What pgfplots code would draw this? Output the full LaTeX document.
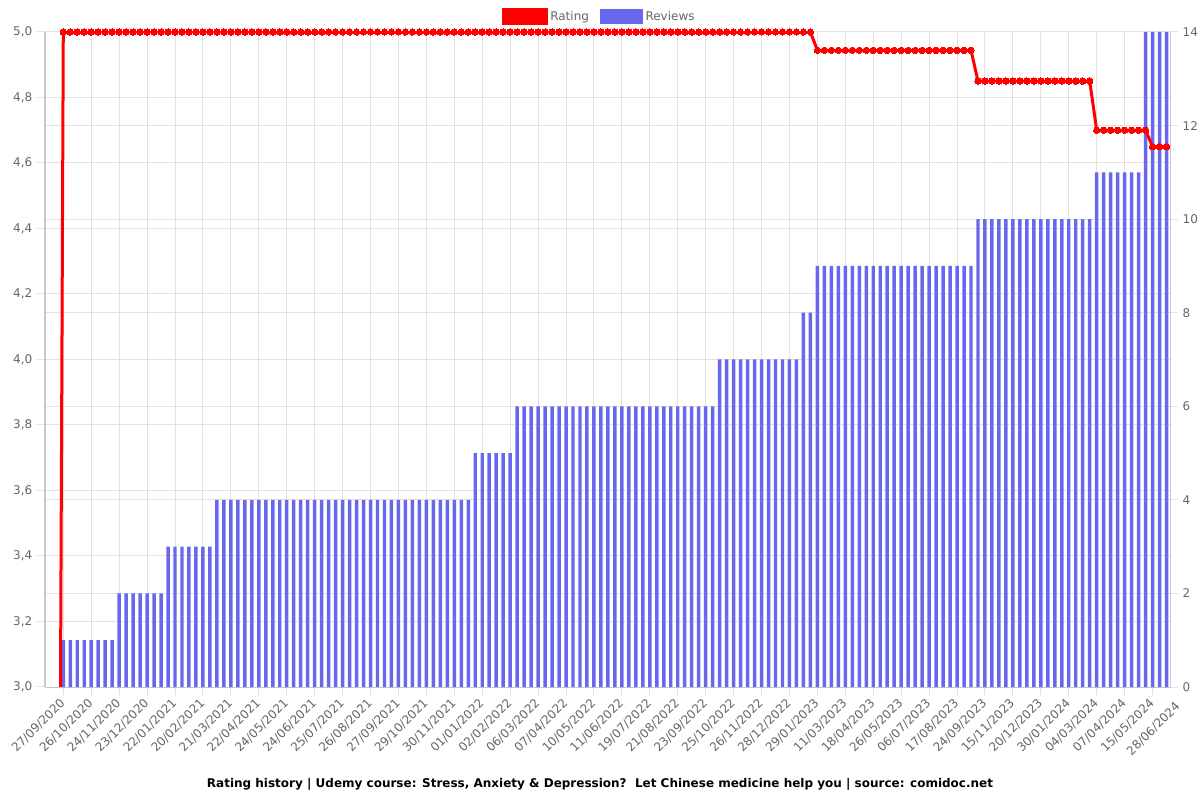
\documentclass[border=0pt]{standalone}
\usepackage{pgfplots}
\pgfplotsset{compat=1.18}
\usepackage{fontspec}
\setmainfont{DejaVu Sans}
\definecolor{barblue}{RGB}{104,104,238}
\definecolor{gridc}{RGB}{226,226,226}
\definecolor{tickc}{RGB}{102,102,102}
\definecolor{axc}{RGB}{200,200,200}
\begin{document}
\begin{tikzpicture}
\useasboundingbox (0,0) rectangle (900pt,600pt);
\begin{axis}[
  at={(33.75pt,84.75pt)}, anchor=south west,
  width=843.75pt, height=491.25pt, scale only axis,
  xmin=-1.62, xmax=159.5, ymin=0, ymax=14,
  axis x line*=bottom, axis y line*=right,
  axis line style={axc, line width=0.75pt, -},
  xtick={1,5,...,157},
  xticklabels={27/09/2020,26/10/2020,24/11/2020,23/12/2020,22/01/2021,20/02/2021,21/03/2021,22/04/2021,24/05/2021,24/06/2021,25/07/2021,26/08/2021,27/09/2021,29/10/2021,30/11/2021,01/01/2022,02/02/2022,06/03/2022,07/04/2022,10/05/2022,11/06/2022,19/07/2022,21/08/2022,23/09/2022,25/10/2022,26/11/2022,28/12/2022,29/01/2023,11/03/2023,18/04/2023,26/05/2023,06/07/2023,17/08/2023,24/09/2023,15/11/2023,20/12/2023,30/01/2024,04/03/2024,07/04/2024,15/05/2024},
  xticklabel style={rotate=45, anchor=east, yshift=-3pt, font=\fontsize{9}{11}\selectfont, text=tickc},
  ytick={0,2,...,14},
  yticklabel style={font=\fontsize{9}{11}\selectfont, text=tickc},
  /pgf/number format/assume math mode=true,
  extra y ticks={1.4,2.8,4.2,5.6,7,8.4,9.8,11.2,12.6},
  extra y tick labels={},
  extra y tick style={grid=major, major tick length=0pt},
  grid=major, grid style={gridc, line width=0.75pt},
  tick align=outside, major tick length=6pt,
  tick style={gridc, line width=0.75pt},
  clip=true,
]
\addplot[ybar, bar width=2.6pt, bar shift=0pt, fill=barblue, draw=none] coordinates {
(0,0)
(1,1)(2,1)(3,1)(4,1)(5,1)(6,1)(7,1)(8,1)
(9,2)(10,2)(11,2)(12,2)(13,2)(14,2)(15,2)
(16,3)(17,3)(18,3)(19,3)(20,3)(21,3)(22,3)
(23,4)(24,4)(25,4)(26,4)(27,4)(28,4)(29,4)(30,4)(31,4)(32,4)(33,4)(34,4)(35,4)(36,4)(37,4)(38,4)(39,4)(40,4)(41,4)(42,4)(43,4)(44,4)(45,4)(46,4)(47,4)(48,4)(49,4)(50,4)(51,4)(52,4)(53,4)(54,4)(55,4)(56,4)(57,4)(58,4)(59,4)
(60,5)(61,5)(62,5)(63,5)(64,5)(65,5)
(66,6)(67,6)(68,6)(69,6)(70,6)(71,6)(72,6)(73,6)(74,6)(75,6)(76,6)(77,6)(78,6)(79,6)(80,6)(81,6)(82,6)(83,6)(84,6)(85,6)(86,6)(87,6)(88,6)(89,6)(90,6)(91,6)(92,6)(93,6)(94,6)
(95,7)(96,7)(97,7)(98,7)(99,7)(100,7)(101,7)(102,7)(103,7)(104,7)(105,7)(106,7)
(107,8)(108,8)
(109,9)(110,9)(111,9)(112,9)(113,9)(114,9)(115,9)(116,9)(117,9)(118,9)(119,9)(120,9)(121,9)(122,9)(123,9)(124,9)(125,9)(126,9)(127,9)(128,9)(129,9)(130,9)(131,9)
(132,10)(133,10)(134,10)(135,10)(136,10)(137,10)(138,10)(139,10)(140,10)(141,10)(142,10)(143,10)(144,10)(145,10)(146,10)(147,10)(148,10)
(149,11)(150,11)(151,11)(152,11)(153,11)(154,11)(155,11)
(156,14)(157,14)(158,14)(159,14)
};
\coordinate (lastlab) at (axis cs:160.7,0);
\end{axis}
\node[rotate=45, anchor=east, yshift=-3pt, font=\fontsize{9}{11}\selectfont, text=tickc] at ([yshift=-8.5pt]lastlab) {28/06/2024};
\begin{axis}[
  at={(33.75pt,84.75pt)}, anchor=south west,
  width=843.75pt, height=491.25pt, scale only axis,
  xmin=-1.62, xmax=159.5, ymin=3, ymax=5,
  axis y line*=left, axis x line=none,
  axis line style={axc, line width=0.75pt, -},
  ytick={3,3.2,3.4,3.6,3.8,4,4.2,4.4,4.6,4.8,5},
  yticklabel style={font=\fontsize{9}{11}\selectfont, text=tickc,
    /pgf/number format/.cd, fixed, fixed zerofill, precision=1, use comma},
  /pgf/number format/assume math mode=true,
  tick align=outside, major tick length=6pt,
  tick style={gridc, line width=0.75pt},
  clip=true,
  legend style={at={(0.493,1)}, anchor=south, yshift=3pt, draw=none, fill=none,
    font=\fontsize{9}{11}\selectfont, text=tickc, legend columns=2,
    /tikz/every even column/.append style={column sep=6pt}},
]
\addplot[red, line width=2.25pt, mark=*, mark size=2.4pt, mark options={fill=red, draw=red, line width=0pt},
  legend image code/.code={\fill[red] (0pt,-5.2pt) rectangle (32pt,5.2pt);}] coordinates {
(0,0)
(1,5)(2,5)(3,5)(4,5)(5,5)(6,5)(7,5)(8,5)(9,5)(10,5)(11,5)(12,5)(13,5)(14,5)(15,5)(16,5)(17,5)(18,5)(19,5)(20,5)
(21,5)(22,5)(23,5)(24,5)(25,5)(26,5)(27,5)(28,5)(29,5)(30,5)(31,5)(32,5)(33,5)(34,5)(35,5)(36,5)(37,5)(38,5)(39,5)(40,5)
(41,5)(42,5)(43,5)(44,5)(45,5)(46,5)(47,5)(48,5)(49,5)(50,5)(51,5)(52,5)(53,5)(54,5)(55,5)(56,5)(57,5)(58,5)(59,5)(60,5)
(61,5)(62,5)(63,5)(64,5)(65,5)(66,5)(67,5)(68,5)(69,5)(70,5)(71,5)(72,5)(73,5)(74,5)(75,5)(76,5)(77,5)(78,5)(79,5)(80,5)
(81,5)(82,5)(83,5)(84,5)(85,5)(86,5)(87,5)(88,5)(89,5)(90,5)(91,5)(92,5)(93,5)(94,5)(95,5)(96,5)(97,5)(98,5)(99,5)(100,5)
(101,5)(102,5)(103,5)(104,5)(105,5)(106,5)(107,5)(108,5)
(109,4.944)(110,4.944)(111,4.944)(112,4.944)(113,4.944)(114,4.944)(115,4.944)(116,4.944)(117,4.944)(118,4.944)(119,4.944)(120,4.944)(121,4.944)(122,4.944)(123,4.944)(124,4.944)(125,4.944)(126,4.944)(127,4.944)(128,4.944)(129,4.944)(130,4.944)(131,4.944)
(132,4.85)(133,4.85)(134,4.85)(135,4.85)(136,4.85)(137,4.85)(138,4.85)(139,4.85)(140,4.85)(141,4.85)(142,4.85)(143,4.85)(144,4.85)(145,4.85)(146,4.85)(147,4.85)(148,4.85)
(149,4.70)(150,4.70)(151,4.70)(152,4.70)(153,4.70)(154,4.70)(155,4.70)(156,4.70)
(157,4.65)(158,4.65)(159,4.65)
};
\addlegendentry{Rating}
\addlegendimage{legend image code/.code={\fill[barblue] (0pt,-5.2pt) rectangle (32pt,5.2pt);}}
\addlegendentry{Reviews}
\end{axis}
\node[font=\bfseries\fontsize{9}{11}\selectfont, anchor=base] at (450pt,9.5pt) {Rating history | Udemy course: Stress, Anxiety \& Depression?\ \ Let Chinese medicine help you | source: comidoc.net};
\end{tikzpicture}
\end{document}
